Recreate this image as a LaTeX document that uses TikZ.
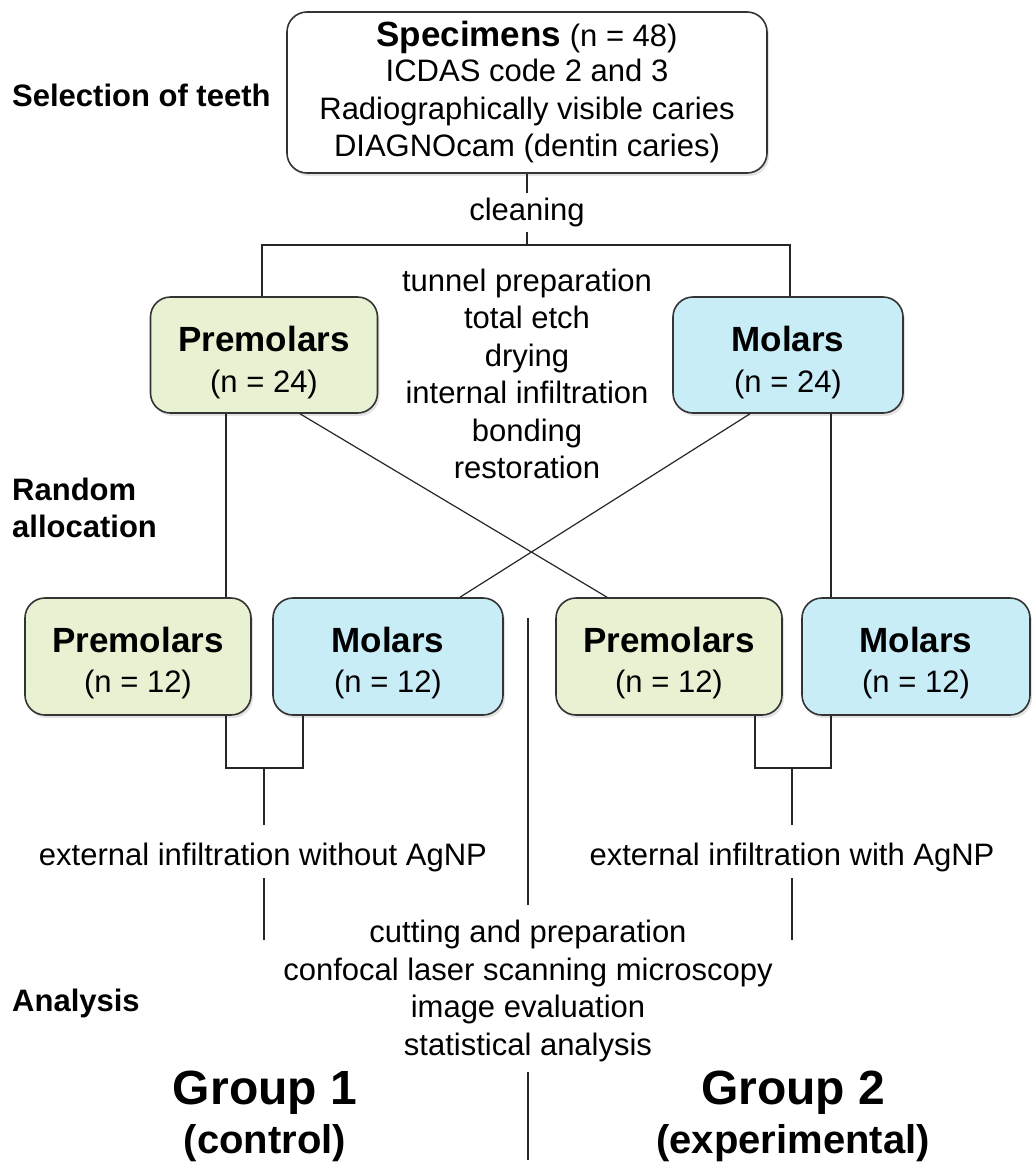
\documentclass[tikz,border=0pt]{standalone}
\usepackage{fontspec}
\setmainfont{Liberation Sans}
\usetikzlibrary{shadows}
\definecolor{pmgreen}{HTML}{E8F1D2}
\definecolor{moblue}{HTML}{C8EDF7}
\definecolor{edge}{HTML}{333333}
\newcommand{\reg}{\fontsize{31}{37.5}\selectfont}
\newcommand{\hdr}{\fontsize{35}{37.5}\selectfont\bfseries}
\newcommand{\lbl}{\fontsize{31}{37}\selectfont\bfseries}
\begin{document}
\begin{tikzpicture}[x=1pt,y=-1pt,
  box/.style={draw=edge,line width=1.6pt,rounded corners=20pt,align=center,inner sep=0pt,font=\reg,
    drop shadow={opacity=0.22,shadow xshift=2pt,shadow yshift=-3pt}},
  pmbox/.style={box,fill=pmgreen},
  mobox/.style={box,fill=moblue},
  txt/.style={inner sep=0pt,align=center,font=\reg},
  side/.style={inner sep=0pt,anchor=west,align=left,font=\lbl},
  grp/.style={inner sep=0pt,align=center,font=\fontsize{40}{49}\selectfont\bfseries},
  conn/.style={line width=1.2pt,draw=black!85}]
\useasboundingbox (0,0) rectangle (1035,1162);

% top box
\node[box,fill=white,minimum width=480pt,minimum height=161pt] (top) at (527,92.5)
  {{\hdr Specimens}{\reg\ (n = 48)}\\[-2.5pt]
   ICDAS code 2 and 3\\
   Radiographically visible caries\\
   DIAGNOcam (dentin caries)};

\node[side] (lsel) at (12,95) {Selection of teeth};
\node[side] (lrand) at (12,508) {Random\\allocation};
\node[side] (lana) at (12,1003) {Analysis};

\node[txt] (clean) at (527,212) {cleaning};
\coordinate (c1) at (527,193);
\coordinate (c2) at (527,232);
\coordinate (br) at (527,245);

% big boxes
\node[pmbox,minimum width=227pt,minimum height=116pt] (pm) at (264,355)
  {{\hdr\rule{0pt}{40pt}Premolars}\\[3.5pt](n = 24)};
\node[mobox,minimum width=230pt,minimum height=116pt] (mo) at (788,355)
  {{\hdr\rule{0pt}{40pt}Molars}\\[3.5pt](n = 24)};

\node[txt] (steps) at (527,374)
  {tunnel preparation\\total etch\\drying\\internal infiltration\\bonding\\restoration};

% small boxes
\node[pmbox,minimum width=226pt,minimum height=117pt] (sp1) at (138,656.5)
  {{\hdr\rule{0pt}{38pt}Premolars}\\[2.5pt](n = 12)};
\node[mobox,minimum width=230pt,minimum height=117pt] (sm2) at (388,656.5)
  {{\hdr\rule{0pt}{38pt}Molars}\\[2.5pt](n = 12)};
\node[pmbox,minimum width=226pt,minimum height=117pt] (sp3) at (669,656.5)
  {{\hdr\rule{0pt}{38pt}Premolars}\\[2.5pt](n = 12)};
\node[mobox,minimum width=228pt,minimum height=117pt] (sm4) at (916,656.5)
  {{\hdr\rule{0pt}{38pt}Molars}\\[2.5pt](n = 12)};

\node[txt] (ext1) at (263,857) {external infiltration without AgNP};
\node[txt] (ext2) at (792,857) {external infiltration with AgNP};

\node[txt] (ana) at (528,991)
  {cutting and preparation\\confocal laser scanning microscopy\\image evaluation\\statistical analysis};

\node[grp] (g1) at (265,1116)
  {{\fontsize{48}{50}\selectfont Group 1}\\(control)};
\node[grp] (g2) at (793,1116)
  {{\fontsize{48}{50}\selectfont Group 2}\\(experimental)};

% coordinates for connector columns
\coordinate (xa) at (226,0);
\coordinate (xb) at (300,0);
\coordinate (xc) at (607,0);
\coordinate (xd) at (750,0);
\coordinate (xe) at (460,0);
\coordinate (xf) at (831,0);
\coordinate (xg) at (303,0);
\coordinate (xh) at (755,0);
\coordinate (jl) at (264,768);
\coordinate (jr) at (792,768);
\coordinate (jl2) at (264,825);
\coordinate (jr2) at (792,825);
\coordinate (el1) at (264,878);
\coordinate (el2) at (264,940);
\coordinate (er1) at (792,878);
\coordinate (er2) at (792,940);
\coordinate (m1) at (528,618);
\coordinate (m2) at (528,905);
\coordinate (m3) at (528,1072);
\coordinate (m4) at (528,1160);

% connectors
\draw[conn] (top.south) -- (c1);
\draw[conn] (c2) -- (br);
\draw[conn] ([xshift=-2pt]pm.north) |- (br) -| ([xshift=2pt]mo.north);
\draw[conn] (xa |- pm.south) -- (xa |- sp1.north);
\draw[conn] (xb |- pm.south) -- (xc |- sp3.north);
\draw[conn] (xd |- mo.south) -- (xe |- sm2.north);
\draw[conn] (xf |- mo.south) -- (xf |- sm4.north);
\draw[conn] (xa |- sp1.south) |- (jl) -| (xg |- sm2.south);
\draw[conn] (xh |- sp3.south) |- (jr) -| (xf |- sm4.south);
\draw[conn] (jl) -- (jl2);
\draw[conn] (jr) -- (jr2);
\draw[conn] (el1) -- (el2);
\draw[conn] (er1) -- (er2);
\draw[conn] (m1) -- (m2);
\draw[conn] (m3) -- (m4);
\end{tikzpicture}
\end{document}
